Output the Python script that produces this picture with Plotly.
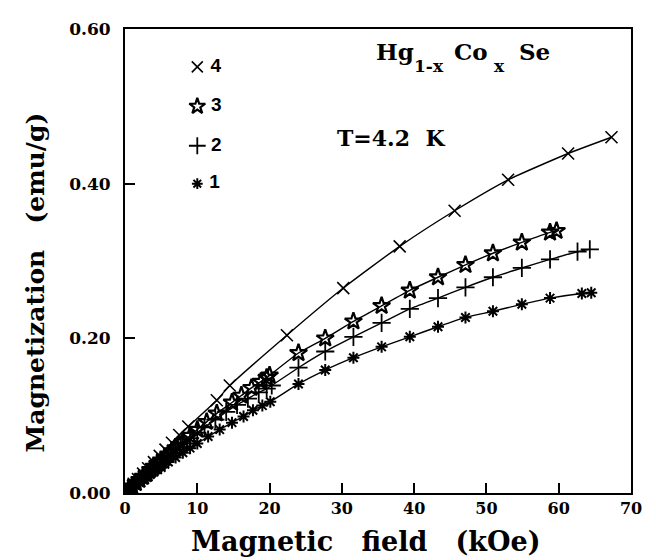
import plotly.graph_objects as go

# ---- data (field in kOe, magnetization in emu/g) ----
field_4 = [0, 0.6, 1.2, 1.8, 2.5, 3.2, 4.0, 4.8, 5.6, 6.5, 7.5, 8.75, 12.7, 14.5, 22.4, 30.2, 38.0, 45.6, 53.0, 61.3, 67.3]
mag_4 = [0, 0.006, 0.012, 0.018, 0.025, 0.032, 0.040, 0.048, 0.056, 0.065, 0.075, 0.086, 0.120, 0.139, 0.204, 0.265, 0.319, 0.365, 0.405, 0.439, 0.460]

field_3 = [0, 0.5, 1, 1.5, 2, 2.5, 3, 3.5, 4, 4.5, 5, 5.5, 6, 6.5, 7, 7.5, 8, 9, 10, 11.3, 12.7, 14.8, 16.1, 17.5, 18.8, 19.6, 20.0, 24.0, 27.7, 31.6, 35.5, 39.4, 43.3, 47.1, 50.9, 54.9, 58.8, 59.7]
mag_3 = [0, 0.0043, 0.0085, 0.013, 0.017, 0.021, 0.025, 0.030, 0.034, 0.038, 0.042, 0.046, 0.050, 0.054, 0.058, 0.062, 0.066, 0.074, 0.082, 0.092, 0.103, 0.117, 0.126, 0.136, 0.144, 0.149, 0.152, 0.181, 0.200, 0.222, 0.242, 0.262, 0.279, 0.295, 0.310, 0.324, 0.337, 0.339]

field_2 = [0, 0.5, 1, 1.5, 2, 2.5, 3, 3.5, 4, 4.5, 5, 5.5, 6, 6.5, 7, 8, 9, 10, 11, 12.5, 14, 15.5, 17, 18.5, 19.6, 20.3, 24.0, 27.7, 31.6, 35.5, 39.4, 43.3, 47.1, 50.9, 54.9, 58.8, 62.6, 64.3]
mag_2 = [0, 0.004, 0.008, 0.012, 0.016, 0.020, 0.024, 0.028, 0.032, 0.036, 0.040, 0.044, 0.048, 0.052, 0.056, 0.064, 0.071, 0.078, 0.085, 0.095, 0.105, 0.114, 0.122, 0.130, 0.135, 0.139, 0.162, 0.183, 0.202, 0.220, 0.238, 0.252, 0.266, 0.279, 0.291, 0.302, 0.312, 0.315]

field_1 = [0, 0.5, 1, 1.5, 2, 2.5, 3, 3.5, 4, 4.5, 5, 5.5, 6, 7, 8, 9, 10, 11.5, 13.1, 14.8, 16.4, 17.7, 19.0, 20.1, 24.0, 27.7, 31.6, 35.5, 39.4, 43.3, 47.1, 50.9, 54.9, 58.8, 63.2, 64.5]
mag_1 = [0, 0.0034, 0.0068, 0.010, 0.0135, 0.017, 0.020, 0.024, 0.027, 0.030, 0.033, 0.037, 0.040, 0.046, 0.052, 0.058, 0.064, 0.073, 0.082, 0.091, 0.099, 0.107, 0.113, 0.118, 0.141, 0.159, 0.175, 0.189, 0.202, 0.215, 0.227, 0.235, 0.244, 0.252, 0.258, 0.259]

sample_labels = ["4", "3", "2", "1"]
legend_x = [10, 10, 10, 10]
legend_y = [0.551, 0.500, 0.449, 0.400]

x_ticks = [0, 10, 20, 30, 40, 50, 60, 70]
y_ticks = [0.0, 0.2, 0.4, 0.6]
y_tick_text = ["0.00", "0.20", "0.40", "0.60"]

SERIF = "DejaVu Serif"
NB = "\u00a0"

styles = {
    "4": dict(symbol="x-thin-open", size=12, lw=1.6),
    "3": dict(symbol="star-open", size=13, lw=2.2),
    "2": dict(symbol="cross-thin-open", size=13, lw=1.8),
    "1": dict(symbol="asterisk-open", size=10, lw=2.0),
}

fig = go.Figure()
for lab, xs, ys in [("4", field_4, mag_4), ("3", field_3, mag_3), ("2", field_2, mag_2), ("1", field_1, mag_1)]:
    st = styles[lab]
    fig.add_trace(go.Scatter(
        x=xs, y=ys, mode="lines+markers", showlegend=False,
        line=dict(color="black", width=1.4, shape="spline", smoothing=0.5),
        marker=dict(symbol=st["symbol"], size=st["size"], color="black",
                    line=dict(color="black", width=st["lw"])),
    ))

# legend-like key
for lab, lx, ly in zip(sample_labels, legend_x, legend_y):
    st = styles[lab]
    fig.add_trace(go.Scatter(
        x=[lx], y=[ly], mode="markers+text", showlegend=False,
        text=[NB + lab], textposition="middle right",
        textfont=dict(family="Liberation Sans", size=19, color="black", weight="bold"),
        marker=dict(symbol=st["symbol"], size=st["size"] - 1, color="black",
                    line=dict(color="black", width=st["lw"])),
    ))

# chemical formula, piece by piece
formula_parts = [("Hg", 34.6, 0.571, 23), ("1-x", 39.9, 0.552, 17), ("Co", 45.4, 0.571, 23),
                 ("x", 50.9, 0.552, 17), ("Se", 54.3, 0.571, 23)]
for txt, fx, fy, fs in formula_parts:
    fig.add_annotation(xref="x", yref="y", x=fx, y=fy, xanchor="left", yanchor="middle",
                       text="<b>" + txt + "</b>", showarrow=False, borderpad=0,
                       font=dict(family=SERIF, size=fs, color="black"))

fig.add_annotation(
    xref="x", yref="y", x=29.2, y=0.459, xanchor="left", yanchor="middle",
    text="<b>T=4.2" + NB * 2 + "K</b>", showarrow=False, borderpad=0,
    font=dict(family=SERIF, size=22, color="black"))

# axis titles
fig.add_annotation(
    xref="paper", yref="paper", x=-0.176, y=0.4536, xanchor="center", yanchor="middle",
    textangle=-90, text="<b>Magnetization" + NB * 3 + "(emu/g)</b>", showarrow=False,
    font=dict(family=SERIF, size=25, color="black"))
fig.add_annotation(
    xref="paper", yref="paper", x=0.477, y=-0.1055, xanchor="center", yanchor="middle",
    text="<b>Magnetic" + NB * 3 + "field" + NB * 3 + "(kOe)</b>", showarrow=False, borderpad=0,
    font=dict(family=SERIF, size=27, color="black"))

fig.update_xaxes(
    range=[0, 70], tickvals=x_ticks, ticks="inside", ticklen=10, tickwidth=1.5,
    tickcolor="black", showline=True, linecolor="black", linewidth=2, mirror=True,
    showgrid=False, zeroline=False,
    tickfont=dict(family=SERIF, size=16, color="black", weight="bold"),
)
fig.update_yaxes(
    range=[0, 0.6], tickvals=y_ticks, ticktext=y_tick_text, ticks="inside", ticklen=10,
    tickwidth=1.5, tickcolor="black", showline=True, linecolor="black", linewidth=2,
    mirror=True, showgrid=False, zeroline=False, ticklabelstandoff=9,
    tickfont=dict(family=SERIF, size=17, color="black", weight="bold"),
)
fig.update_layout(
    width=648, height=552, margin=dict(l=117, r=25, t=11, b=67),
    paper_bgcolor="white", plot_bgcolor="white",
)
fig.write_html("out.html")
